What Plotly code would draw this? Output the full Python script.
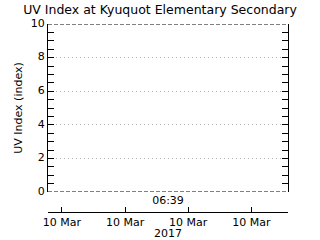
import plotly.graph_objects as go

# Data (no measurements shown in the reference)
times = ["2017-03-10 06:39:00"]
uv_values = [None]

title_text = "UV Index at Kyuquot Elementary Secondary"
y_title = "UV Index (index)"
time_label = "06:39"
year_label = "2017"
x_range = ["2017-03-10 06:11:42", "2017-03-10 07:08:42"]
y_range = [0, 10]

W, H = 320, 240
left, right, top, bottom = 48, 32, 24, 28
plot_h = H - top - bottom
y_dom_bottom = (212 - 192) / plot_h

font = dict(family="DejaVu Sans", size=11, color="black")

fig = go.Figure()
fig.add_trace(go.Scatter(x=times, y=uv_values, mode="lines", line=dict(color="black"),
                         showlegend=False))
# invisible trace on the lower time axis
fig.add_trace(go.Scatter(x=times, y=uv_values, xaxis="x2", mode="lines", showlegend=False))

fig.update_layout(
    width=W, height=H,
    margin=dict(l=left, r=right, t=top, b=bottom, pad=0, autoexpand=False),
    paper_bgcolor="white", plot_bgcolor="white",
    font=font,
    title=dict(text=title_text, x=0.5, xanchor="center", y=0.958, yanchor="middle",
               font=dict(family="DejaVu Sans", size=12.5, color="black")),
    xaxis=dict(type="date", range=x_range, showticklabels=False, ticks="",
               showgrid=False, zeroline=False, showline=False, anchor="y",
               automargin=False,
               title=dict(text=time_label, standoff=4, font=dict(size=11))),
    xaxis2=dict(type="date", range=x_range, overlaying="x", anchor="free", position=0,
                side="bottom", showline=True, linecolor="black", linewidth=1,
                ticks="inside", ticklen=5, tickcolor="black", tickwidth=1,
                tickformat="%d %b", dtick=15 * 60 * 1000, tick0="2017-03-10 06:00",
                showgrid=False, zeroline=False, automargin=False,
                tickfont=dict(size=11),
                title=dict(text=year_label, standoff=1, font=dict(size=11))),
    yaxis=dict(range=y_range, domain=[y_dom_bottom, 1], dtick=2, tick0=0,
               ticks="inside", ticklen=6, tickcolor="black", tickwidth=1,
               showline=True, linecolor="black", linewidth=1, mirror="allticks",
               showgrid=True, gridcolor="#b4b4b4", griddash="1px,3px", gridwidth=1,
               zeroline=False, automargin=False, ticklabelshift=-1,
               minor=dict(dtick=0.5, ticks="inside", ticklen=3, tickcolor="black",
                          tickwidth=1, showgrid=False),
               title=dict(text=y_title, standoff=5, font=dict(size=11))),
)

for yv in y_range:
    fig.add_shape(type="line", xref="x domain", yref="y", x0=0, x1=1, y0=yv, y1=yv,
                  line=dict(color="black", width=1, dash="4px,2px"))

fig.write_html("out.html")
